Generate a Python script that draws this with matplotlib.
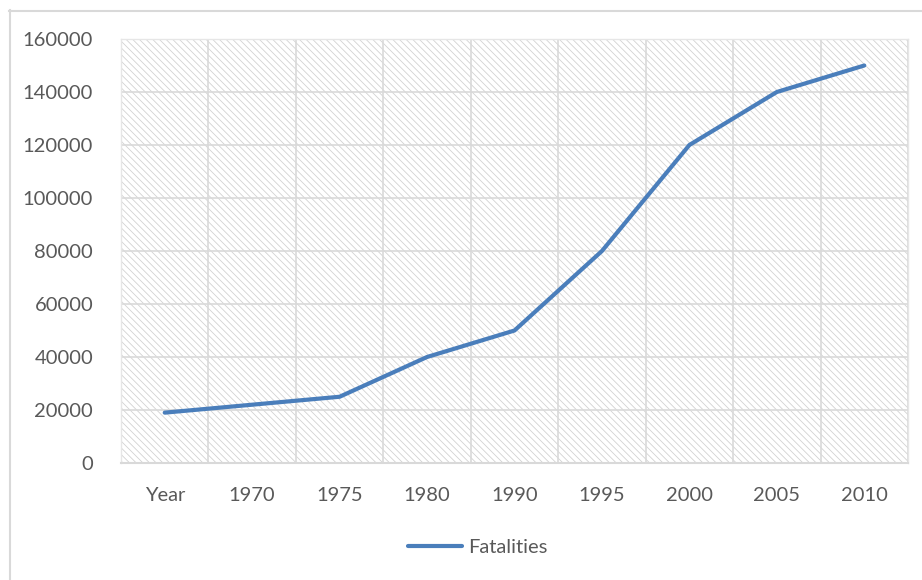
import numpy as np
import matplotlib.pyplot as plt
from matplotlib.patches import Rectangle
from matplotlib.lines import Line2D

plt.rcParams['font.family'] = ['Lato', 'DejaVu Sans']

# data
years = ['Year', '1970', '1975', '1980', '1990', '1995', '2000', '2005', '2010']
fatalities = [19000, 22000, 25000, 40000, 50000, 80000, 120000, 140000, 150000]
yticks = np.arange(0, 160001, 20000)

text_col = '#595959'
grid_col = '#d9d9d9'
line_col = '#4a7ebb'

W, H = 922, 580
fig = plt.figure(figsize=(W / 100, H / 100), dpi=100)
ax = fig.add_axes([121 / W, 1 - 463 / H, (908 - 121) / W, (463 - 39) / H])

# chart area border (only top/left visible in the crop)
fig.add_artist(Line2D([9.5 / W, 9.5 / W], [0, 1 - 10 / H], color=grid_col, lw=1.5))
fig.add_artist(Line2D([9 / W, 1], [1 - 10.5 / H, 1 - 10.5 / H], color=grid_col, lw=1.5))

# hatched plot area
plt.rcParams['hatch.linewidth'] = 0.6
hatch = Rectangle((0, 0), 1, 1, transform=ax.transAxes, facecolor='white',
                  edgecolor='#d2d2d2', hatch='\\\\\\\\\\', lw=0, zorder=0)
ax.add_patch(hatch)

x = np.arange(len(years))
ax.plot(x, fatalities, color=line_col, lw=3, solid_capstyle='round',
        solid_joinstyle='round', zorder=3, label='Fatalities')

ax.set_xlim(-0.5, len(years) - 0.5)
ax.set_ylim(0, 160000)
ax.set_xticks(x)
ax.set_xticklabels(years)
ax.set_xticks(np.arange(-0.5, len(years)), minor=True)
ax.set_yticks(yticks)
ax.set_yticklabels([str(v) for v in yticks])

ax.grid(True, axis='y', which='major', color=grid_col, lw=1.2, zorder=1)
ax.grid(True, axis='x', which='minor', color=grid_col, lw=1.2, zorder=1)
ax.set_axisbelow(True)

ax.tick_params(axis='both', which='both', length=0, labelsize=14.5, colors=text_col)
ax.tick_params(axis='x', pad=17)
ax.tick_params(axis='y', pad=20)

for s in ['top', 'left', 'right']:
    ax.spines[s].set_color('#e6e6e6')
    ax.spines[s].set_linewidth(1)
ax.spines['bottom'].set_color(grid_col)
ax.spines['bottom'].set_linewidth(1.5)

leg = fig.legend(loc='center', bbox_to_anchor=(478 / W, 1 - 547 / H), frameon=False,
                 fontsize=14.5, handlelength=2.7, handletextpad=0.3)
for t in leg.get_texts():
    t.set_color(text_col)

fig.savefig('out.png', dpi=100)
